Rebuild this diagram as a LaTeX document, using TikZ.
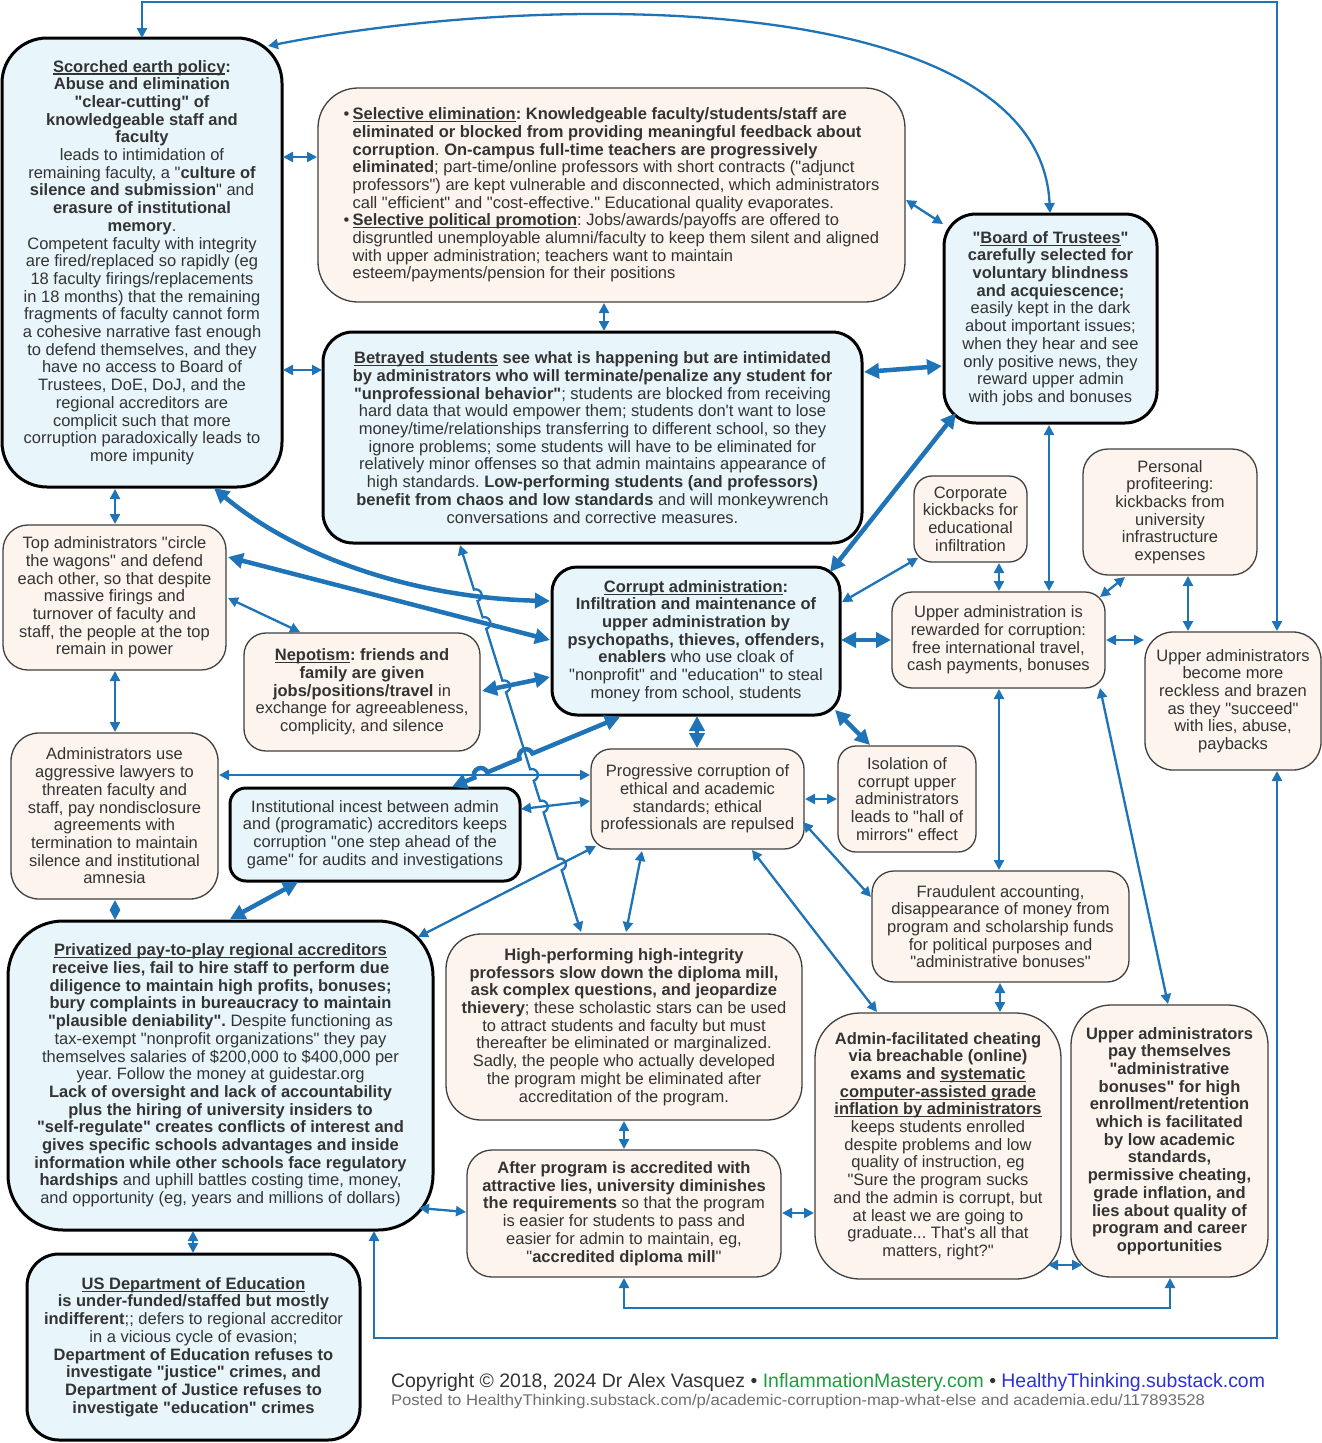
\documentclass[tikz,border=0pt]{standalone}
\usepackage{fontspec}
\usepackage{graphicx}
\setmainfont{Liberation Sans}[Ligatures=TeXOff]
\usetikzlibrary{arrows.meta,calc,intersections}
\definecolor{cblue}{RGB}{31,115,183}
\definecolor{bfill}{RGB}{232,245,250}
\definecolor{pfill}{RGB}{252,244,237}
\definecolor{tgray}{RGB}{51,51,51}
\definecolor{cgreen}{RGB}{30,158,62}
\definecolor{lblue}{RGB}{45,50,214}
\definecolor{lgray}{RGB}{110,110,110}
\newcommand{\ulin}[1]{\setbox0=\hbox{#1}\rlap{\rule[-2.6pt]{\wd0}{1.2pt}}\box0\relax}
\frenchspacing
\begin{document}
\begin{tikzpicture}[x=1pt,y=-1pt,
  every node/.style={inner sep=0pt, outer sep=0pt, text=tgray},
  boxbase/.style={align=center, font=\fontsize{16.5}{17.7}\selectfont},
  bbox/.style={boxbase, draw=black, line width=3pt, fill=bfill},
  pbox/.style={boxbase, draw=black!75, line width=1.3pt, fill=pfill},
  conn/.style={draw=cblue, line width=2.3pt, >={Triangle[length=10pt,width=10pt]}, <->},
  tconn/.style={draw=cblue, line width=4.5pt, >={Triangle[length=15pt,width=15pt]}, <->},
]
\fill[white] (0,0) rectangle (1322,1443);
\useasboundingbox (0,0) rectangle (1322,1443);

% ---------------- nodes ----------------
\node[bbox, minimum width=280, minimum height=449, rounded corners=45pt] (A) at (142,262.5) {%
\textbf{\ulin{Scorched earth policy}:}\\
\textbf{Abuse and elimination}\\
\textbf{"clear-cutting" of}\\
\textbf{knowledgeable staff and}\\
\textbf{faculty}\\
leads to intimidation of\\
remaining faculty, a "\textbf{culture of}\\
\textbf{silence and submission}" and\\
\textbf{erasure of institutional}\\
\textbf{memory}.\\
Competent faculty with integrity\\
are fired/replaced so rapidly (eg\\
18 faculty firings/replacements\\
in 18 months) that the remaining\\
fragments of faculty cannot form\\
a cohesive narrative fast enough\\
to defend themselves, and they\\
have no access to Board of\\
Trustees, DoE, DoJ, and the\\
regional accreditors are\\
complicit such that more\\
corruption paradoxically leads to\\
more impunity};

\node[pbox, minimum width=587, minimum height=214, rounded corners=40pt, align=left] (B) at (611.5,195) {%
\makebox[9pt][l]{•}\textbf{\ulin{Selective elimination}: Knowledgeable faculty/students/staff are}\\
\hspace*{9pt}\textbf{eliminated or blocked from providing meaningful feedback about}\\
\hspace*{9pt}\textbf{corruption}. \textbf{On-campus full-time teachers are progressively}\\
\hspace*{9pt}\textbf{eliminated}; part-time/online professors with short contracts ("adjunct\\
\hspace*{9pt}professors") are kept vulnerable and disconnected, which administrators\\
\hspace*{9pt}call "efficient" and "cost-effective." Educational quality evaporates.\\
\makebox[9pt][l]{•}\textbf{\ulin{Selective political promotion}}: Jobs/awards/payoffs are offered to\\
\hspace*{9pt}disgruntled unemployable alumni/faculty to keep them silent and aligned\\
\hspace*{9pt}with upper administration; teachers want to maintain\\
\hspace*{9pt}esteem/payments/pension for their positions};

\node[bbox, minimum width=213, minimum height=209, rounded corners=32pt] (C) at (1050.5,318.5) {%
\textbf{"\ulin{Board of Trustees}"}\\
\textbf{carefully selected for}\\
\textbf{voluntary blindness}\\
\textbf{and acquiescence;}\\
easily kept in the dark\\
about important issues;\\
when they hear and see\\
only positive news, they\\
reward upper admin\\
with jobs and bonuses};

\node[bbox, minimum width=539, minimum height=211, rounded corners=30pt] (D) at (592.5,437.5) {%
\textbf{\ulin{Betrayed students} see what is happening but are intimidated}\\
\textbf{by administrators who will terminate/penalize any student for}\\
\textbf{"unprofessional behavior"}; students are blocked from receiving\\
hard data that would empower them; students don't want to lose\\
money/time/relationships transferring to different school, so they\\
ignore problems; some students will have to be eliminated for\\
relatively minor offenses so that admin maintains appearance of\\
high standards. \textbf{Low-performing students (and professors)}\\
\textbf{benefit from chaos and low standards} and will monkeywrench\\
conversations and corrective measures.};

\node[pbox, minimum width=223, minimum height=145, rounded corners=25pt] (E) at (114.5,597.5) {%
Top administrators "circle\\
the wagons" and defend\\
each other, so that despite\\
massive firings and\\
turnover of faculty and\\
staff, the people at the top\\
remain in power};

\node[pbox, minimum width=236, minimum height=118, rounded corners=22pt] (F) at (362,692) {%
\textbf{\ulin{Nepotism}: friends and}\\
\textbf{family are given}\\
\textbf{jobs/positions/travel} in\\
exchange for agreeableness,\\
complicity, and silence};

\node[bbox, minimum width=288, minimum height=148, rounded corners=25pt] (G) at (696,641) {%
\textbf{\ulin{Corrupt administration}:}\\
\textbf{Infiltration and maintenance of}\\
\textbf{upper administration by}\\
\textbf{psychopaths, thieves, offenders,}\\
\textbf{enablers} who use cloak of\\
"nonprofit" and "education" to steal\\
money from school, students};

\node[pbox, minimum width=113, minimum height=86, rounded corners=18pt] (H) at (970.5,519) {%
Corporate\\kickbacks for\\educational\\infiltration};

\node[pbox, minimum width=174, minimum height=126, rounded corners=25pt] (I) at (1170,512) {%
Personal\\profiteering:\\kickbacks from\\university\\infrastructure\\expenses};

\node[pbox, minimum width=213, minimum height=96, rounded corners=20pt] (J) at (998.5,640) {%
Upper administration is\\rewarded for corruption:\\free international travel,\\cash payments, bonuses};

\node[pbox, minimum width=176, minimum height=138, rounded corners=28pt] (K) at (1233,701) {%
Upper administrators\\become more\\reckless and brazen\\as they "succeed"\\with lies, abuse,\\paybacks};

\node[pbox, minimum width=207, minimum height=166, rounded corners=28pt] (L) at (114.5,816) {%
Administrators use\\aggressive lawyers to\\threaten faculty and\\staff, pay nondisclosure\\agreements with\\termination to maintain\\silence and institutional\\amnesia};

\node[bbox, minimum width=290, minimum height=93, rounded corners=16pt] (M) at (375,834.5) {%
Institutional incest between admin\\and (programatic) accreditors keeps\\corruption "one step ahead of the\\game" for audits and investigations};

\node[pbox, minimum width=213, minimum height=100, rounded corners=20pt] (N) at (697.5,799) {%
Progressive corruption of\\ethical and academic\\standards; ethical\\professionals are repulsed};

\node[pbox, minimum width=138, minimum height=106, rounded corners=18pt] (O) at (907,799) {%
Isolation of\\corrupt upper\\administrators\\leads to "hall of\\mirrors" effect};

\node[pbox, minimum width=257, minimum height=111, rounded corners=22pt] (P) at (1000.5,926.5) {%
Fraudulent accounting,\\disappearance of money from\\program and scholarship funds\\for political purposes and\\"administrative bonuses"};

\node[bbox, minimum width=425, minimum height=309, rounded corners=55pt] (Q) at (220.5,1075.5) {%
\textbf{\ulin{Privatized pay-to-play regional accreditors}}\\
\textbf{receive lies, fail to hire staff to perform due}\\
\textbf{diligence to maintain high profits, bonuses;}\\
\textbf{bury complaints in bureaucracy to maintain}\\
\textbf{"plausible deniability".} Despite functioning as\\
tax-exempt "nonprofit organizations" they pay\\
themselves salaries of \$200,000 to \$400,000 per\\
year. Follow the money at guidestar.org\\
\textbf{Lack of oversight and lack of accountability}\\
\textbf{plus the hiring of university insiders to}\\
\textbf{"self-regulate" creates conflicts of interest and}\\
\textbf{gives specific schools advantages and inside}\\
\textbf{information while other schools face regulatory}\\
\textbf{hardships} and uphill battles costing time, money,\\
and opportunity (eg, years and millions of dollars)};

\node[pbox, minimum width=356, minimum height=186, rounded corners=35pt] (R) at (624,1027) {%
\textbf{High-performing high-integrity}\\
\textbf{professors slow down the diploma mill,}\\
\textbf{ask complex questions, and jeopardize}\\
\textbf{thievery}; these scholastic stars can be used\\
to attract students and faculty but must\\
thereafter be eliminated or marginalized.\\
Sadly, the people who actually developed\\
the program might be eliminated after\\
accreditation of the program.};

\node[pbox, minimum width=314, minimum height=127, rounded corners=25pt] (S) at (624,1213.5) {%
\textbf{After program is accredited with}\\
\textbf{attractive lies, university diminishes}\\
\textbf{the requirements} so that the program\\
is easier for students to pass and\\
easier for admin to maintain, eg,\\
"\textbf{accredited diploma mill}"};

\node[pbox, minimum width=246, minimum height=266, rounded corners=45pt] (T) at (938,1146) {%
\textbf{Admin-facilitated cheating}\\
\textbf{via breachable (online)}\\
\textbf{exams and \ulin{systematic}}\\
\textbf{\ulin{computer-assisted grade}}\\
\textbf{\ulin{inflation by administrators}}\\
keeps students enrolled\\
despite problems and low\\
quality of instruction, eg\\
"Sure the program sucks\\
and the admin is corrupt, but\\
at least we are going to\\
graduate... That's all that\\
matters, right?"};

\node[pbox, minimum width=197, minimum height=272, rounded corners=40pt,
      font=\fontsize{16.5}{17.7}\selectfont\bfseries] (U) at (1169.5,1141) {%
Upper administrators\\pay themselves\\"administrative\\bonuses" for high\\enrollment/retention\\which is facilitated\\by low academic\\standards,\\permissive cheating,\\grade inflation, and\\lies about quality of\\program and career\\opportunities};

\node[bbox, minimum width=333, minimum height=186, rounded corners=32pt] (V) at (193.5,1347) {%
\textbf{\ulin{US Department of Education}}\\
\textbf{is under-funded/staffed but mostly}\\
\textbf{indifferent};; defers to regional accreditor\\
in a vicious cycle of evasion;\\
\textbf{Department of Education refuses to}\\
\textbf{investigate "justice" crimes, and}\\
\textbf{Department of Justice refuses to}\\
\textbf{investigate "education" crimes}};

\node[anchor=base west] (cr1) at (391,1387) {\resizebox{874pt}{\height}{\fontsize{19.5}{20}\selectfont Copyright © 2018, 2024 Dr Alex Vasquez • \textcolor{cgreen}{InflammationMastery.com} • \textcolor{lblue}{HealthyThinking.substack.com}}};
\node[anchor=base west, text=lgray] (cr2) at (391,1405) {\resizebox{814pt}{\height}{\fontsize{15.5}{16}\selectfont Posted to HealthyThinking.substack.com/p/academic-corruption-map-what-else and academia.edu/117893528}};

% ---------------- connectors ----------------
\draw[conn] ($(A.north west)+(281,119)$) -- ($(B.north west)+(-1,69)$);
\draw[conn] ($(A.north west)+(281,332)$) -- ($(D.north west)+(-1,38)$);
\draw[conn] ($(B.north west)+(286,215)$) -- ($(D.north west)+(281,-1)$);
\draw[conn] ($(B.north west)+(588,112)$) -- ($(C.north west)+(-1,10)$);
\draw[tconn] ($(D.north west)+(541,40)$) -- ($(C.north west)+(-2,152)$);
\draw[conn] ($(C.north west)+(105,211)$) -- ($(J.north west)+(157,-1)$);
\draw[tconn] ($(C.north west)+(12,199)$) -- ($(G.north west)+(278,5)$);
\draw[tconn, name path=agp] ($(A.north west)+(212,450)$) .. controls (300,560) and (420,598) .. ($(G.north west)+(-2,34)$);
\draw[tconn, name path=egp] ($(E.north west)+(225,32)$) -- ($(G.north west)+(-2,73)$);
\draw[conn] ($(E.north west)+(225,73)$) -- ($(F.north west)+(56,-1)$);
\draw[tconn, name path=fgp] ($(F.north west)+(238,58)$) -- ($(G.north west)+(-2,110)$);
\draw[conn] ($(A.north west)+(113,451)$) -- ($(E.north west)+(112,-1)$);
\draw[conn] ($(E.north west)+(112,146)$) -- ($(L.north west)+(104,-1)$);
\draw[conn, name path=lnp] ($(L.north west)+(208,42)$) -- ($(N.north west)+(-1,26)$);
\draw[conn, name path=mnp] ($(M.north west)+(291,21)$) -- ($(N.north west)+(-1,52)$);
\draw[conn] ($(L.north west)+(104,167)$) -- ($(Q.north west)+(107,-1)$);
\draw[tconn] ($(M.north west)+(68,94)$) -- ($(Q.north west)+(222,-2)$);
\draw[conn, name path=nqp] ($(N.north west)+(5,97)$) -- ($(Q.north west)+(410,16)$);
\draw[tconn] ($(G.north west)+(145,149)$) -- ($(N.north west)+(106,-1)$);
\draw[conn] ($(N.north west)+(51,102)$) -- ($(R.north west)+(180,-2)$);
\draw[conn] ($(N.north west)+(214,50)$) -- ($(O.north west)+(-1,53)$);
\draw[tconn] ($(G.north west)+(283,143)$) -- ($(O.north west)+(32,-1)$);
\draw[tconn] ($(G.north west)+(289,73)$) -- ($(J.north west)+(-1,48)$);
\draw[conn] ($(G.north west)+(290,35)$) -- ($(H.north west)+(4,82)$);
\draw[conn] ($(H.north west)+(85,87)$) -- ($(J.north west)+(107,-1)$);
\draw[conn] ($(I.north west)+(42,128)$) -- ($(J.north west)+(208,5)$);
\draw[conn] ($(I.north west)+(105,127)$) -- ($(K.north west)+(43,-1)$);
\draw[conn] ($(J.north west)+(214,48)$) -- ($(K.north west)+(-1,8)$);
\draw[conn] ($(J.north west)+(107,97)$) -- ($(P.north west)+(127,-1)$);
\draw[conn] ($(J.north west)+(208,96)$) -- ($(U.north west)+(97,-1)$);
\draw[conn] ($(N.north west)+(212,73)$) -- ($(P.north west)+(-1,26)$);
\draw[conn] ($(N.north west)+(161,101)$) -- ($(T.north west)+(62,-1)$);
\draw[conn] ($(P.north west)+(128,112)$) -- ($(T.north west)+(185,-1)$);
\draw[conn] ($(Q.north west)+(411,287)$) -- ($(S.north west)+(-1,62)$);
\draw[conn] ($(S.north west)+(315,63)$) -- ($(T.north west)+(-1,200)$);
\draw[conn] ($(T.north west)+(233,252)$) -- ($(U.north west)+(11,260)$);
\draw[conn] ($(R.north west)+(178,187)$) -- ($(S.north west)+(157,-1)$);
\draw[conn] ($(Q.north west)+(185,310)$) -- ($(V.north west)+(166,-1)$);
% outer loops
\draw[conn] (A.north) -- ++(0,-36) -| ($(K.north west)+(132,-1)$);
\draw[conn] ($(K.north west)+(132,139)$) -- ++(0,567) -| ($(Q.north west)+(366,310)$);
\draw[conn] ($(S.north west)+(157,128)$) -- ++(0,30) -| ($(U.north west)+(99,273)$);
\draw[conn] ($(A.north west)+(266,8)$) .. controls (550,-10) and (1040,-10) .. ($(C.north west)+(106,-1)$);

% D -- R with hops
\coordinate (dr1) at ($(D.north west)+(137,213)$);
\coordinate (dr2) at ($(R.north west)+(135,-2)$);
\path[name path=drp] (dr1) -- (dr2);
\coordinate (gm1) at ($(G.north west)+(68,150)$);
\coordinate (gm2) at ($(M.north west)+(222,-1)$);
\path[name path=gmp] (gm1) -- (gm2);
\path[name intersections={of=drp and agp, by={h1}}];
\path[name intersections={of=drp and egp, by={h2}}];
\path[name intersections={of=drp and fgp, by={h3}}];
\path[name intersections={of=drp and lnp, by={h4}}];
\path[name intersections={of=drp and mnp, by={h5}}];
\path[name intersections={of=drp and nqp, by={h6}}];
\path[name intersections={of=gmp and drp, by={k1}}];
\path[name intersections={of=gmp and lnp, by={k2}}];
\draw[conn] (dr1)
  -- ($(h1)!6pt!(dr1)$) arc[start angle=107.36, delta angle=-180, radius=6pt]
  -- ($(h2)!6pt!(dr1)$) arc[start angle=107.36, delta angle=-180, radius=6pt]
  -- ($(h3)!6pt!(dr1)$) arc[start angle=107.36, delta angle=-180, radius=6pt]
  -- ($(h4)!6pt!(dr1)$) arc[start angle=107.36, delta angle=-180, radius=6pt]
  -- ($(h5)!6pt!(dr1)$) arc[start angle=107.36, delta angle=-180, radius=6pt]
  -- ($(h6)!6pt!(dr1)$) arc[start angle=107.36, delta angle=-180, radius=6pt]
  -- (dr2);
\draw[tconn] (gm1)
  -- ($(k1)!7pt!(gm1)$) arc[start angle=22.62, delta angle=180, radius=7pt]
  -- ($(k2)!7pt!(gm1)$) arc[start angle=22.62, delta angle=180, radius=7pt]
  -- (gm2);
\end{tikzpicture}
\end{document}
